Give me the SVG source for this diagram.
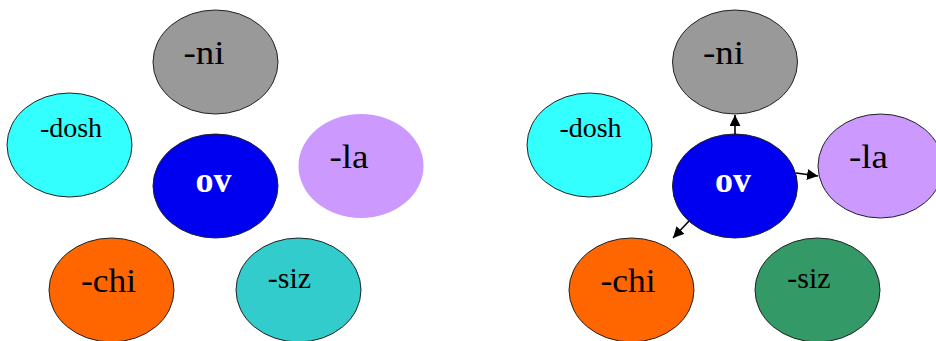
<svg xmlns="http://www.w3.org/2000/svg" width="936" height="341" viewBox="0 0 936 341">
<defs>
<style>
.n{stroke:#222;stroke-width:1}
.t{font-family:"Liberation Serif","Times New Roman",serif;fill:#000;text-anchor:middle}
.big{font-size:33px}
.sm{font-size:28px}
.ov{font-size:36px;font-weight:bold;fill:#fff}
.c{stroke:#000;stroke-width:1.6;fill:none}
</style>
<marker id="ah" viewBox="0 0 10 10" refX="10" refY="5" markerWidth="11" markerHeight="11" markerUnits="userSpaceOnUse" orient="auto">
<path d="M0,0 L10,5 L0,10 z" fill="#000"/>
</marker>
</defs>
<rect width="936" height="341" fill="#fff"/>
<g id="left">
<g id="l-ni"><ellipse class="n" cx="215.5" cy="62" rx="62.5" ry="52" fill="#999999"/><text class="t big" x="204" y="64" textLength="41" lengthAdjust="spacingAndGlyphs">-ni</text></g>
<g id="l-dosh"><ellipse class="n" cx="69.5" cy="145" rx="62.5" ry="52" fill="#33FFFF"/><text class="t sm" x="71" y="137">-dosh</text></g>
<g id="l-ov"><ellipse class="n" cx="215.5" cy="186" rx="62.5" ry="52" fill="#0000F0"/><text class="t ov" x="213.5" y="192">ov</text></g>
<g id="l-la"><ellipse cx="361" cy="166" rx="62.5" ry="52" fill="#CC99FF"/><text class="t big" x="349" y="168" textLength="39" lengthAdjust="spacingAndGlyphs">-la</text></g>
<g id="l-chi"><ellipse class="n" cx="111.5" cy="290" rx="62.5" ry="52" fill="#FF6600"/><text class="t big" x="108.5" y="292" textLength="55" lengthAdjust="spacingAndGlyphs">-chi</text></g>
<g id="l-siz"><ellipse class="n" cx="298.5" cy="290" rx="62.5" ry="52" fill="#33CCCC"/><text class="t sm" x="289.5" y="288" style="font-size:30px">-siz</text></g>
</g>
<g id="right">
<g id="r-ni"><ellipse class="n" cx="735" cy="62" rx="62.5" ry="52" fill="#999999"/><text class="t big" x="723.5" y="64" textLength="41" lengthAdjust="spacingAndGlyphs">-ni</text></g>
<g id="r-dosh"><ellipse class="n" cx="589.5" cy="145" rx="62.5" ry="52" fill="#33FFFF"/><text class="t sm" x="590.5" y="137">-dosh</text></g>
<g id="r-ov"><ellipse class="n" cx="735" cy="186" rx="62.5" ry="52" fill="#0000F0"/><text class="t ov" x="733" y="192">ov</text></g>
<g id="r-la"><ellipse class="n" cx="880.5" cy="166" rx="62.5" ry="52" fill="#CC99FF"/><text class="t big" x="868.5" y="168" textLength="39" lengthAdjust="spacingAndGlyphs">-la</text></g>
<g id="r-chi"><ellipse class="n" cx="631.5" cy="290" rx="62.5" ry="52" fill="#FF6600"/><text class="t big" x="628" y="292" textLength="55" lengthAdjust="spacingAndGlyphs">-chi</text></g>
<g id="r-siz"><ellipse class="n" cx="817.5" cy="290" rx="62.5" ry="52" fill="#339966"/><text class="t sm" x="809" y="288" style="font-size:30px">-siz</text></g>
</g>
<g id="connectors">
<line class="c" x1="735" y1="134" x2="735" y2="115" marker-end="url(#ah)"/>
<line class="c" x1="796" y1="173" x2="818" y2="176" marker-end="url(#ah)"/>
<line class="c" x1="689" y1="221" x2="673" y2="238" marker-end="url(#ah)"/>
</g>
</svg>
